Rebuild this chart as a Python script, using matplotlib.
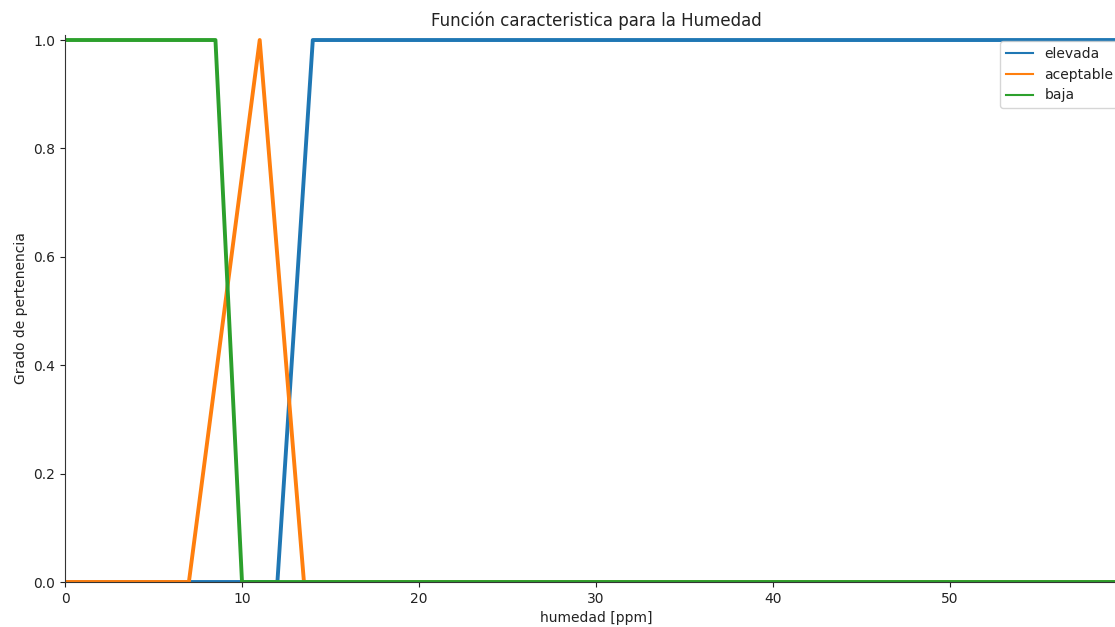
import matplotlib
matplotlib.use("Agg")
import matplotlib.pyplot as plt

# Breakpoints of the membership functions (humedad [ppm] -> grado)
elevada_x = [0, 12, 14, 60]
elevada_y = [0, 0, 1, 1]
aceptable_x = [0, 7, 11, 13.5, 60]
aceptable_y = [0, 0, 1, 0, 0]
baja_x = [0, 8.5, 10, 60]
baja_y = [1, 1, 0, 0]

labels = ["elevada", "aceptable", "baja"]
yticks = [0.0, 0.2, 0.4, 0.6, 0.8, 1.0]
xticks = [0, 10, 20, 30, 40, 50]

W, H = 1115, 627
fig = plt.figure(figsize=(W / 100, H / 100), dpi=100)
left_px, right_px = 65, 1127
bottom_px, top_px = 582, 34.6
ax = fig.add_axes([left_px / W, (H - bottom_px) / H,
                   (right_px - left_px) / W, (bottom_px - top_px) / H])

lw = 2.8
ax.plot(elevada_x, elevada_y, color="#1f77b4", lw=lw, label=labels[0])
ax.plot(aceptable_x, aceptable_y, color="#ff7f0e", lw=lw, label=labels[1])
ax.plot(baja_x, baja_y, color="#2ca02c", lw=lw, label=labels[2])

ax.set_xlim(0, 60)
ax.set_ylim(0, 1.01)
ax.set_xticks(xticks)
ax.set_yticks(yticks)
ax.set_yticklabels([f"{v:.1f}" for v in yticks])
ax.tick_params(labelsize=10, colors="#222222")
ax.spines["top"].set_visible(False)
ax.spines["right"].set_visible(False)
ax.spines["left"].set_color("#333333")
ax.spines["bottom"].set_color("#333333")

ax.set_title("Función caracteristica para la Humedad", fontsize=12, color="#222222")
ax.set_xlabel("humedad [ppm]", fontsize=10, color="#222222")
ax.set_ylabel("Grado de pertenencia", fontsize=10, color="#222222")

leg = ax.legend(loc="upper left", bbox_to_anchor=(1000 / W, 1 - 41 / H),
                bbox_transform=fig.transFigure, borderaxespad=0, fontsize=10)
for line in leg.get_lines():
    line.set_linewidth(1.5)
for t in leg.get_texts():
    t.set_color("#222222")

fig.savefig("out.png", dpi=100)
